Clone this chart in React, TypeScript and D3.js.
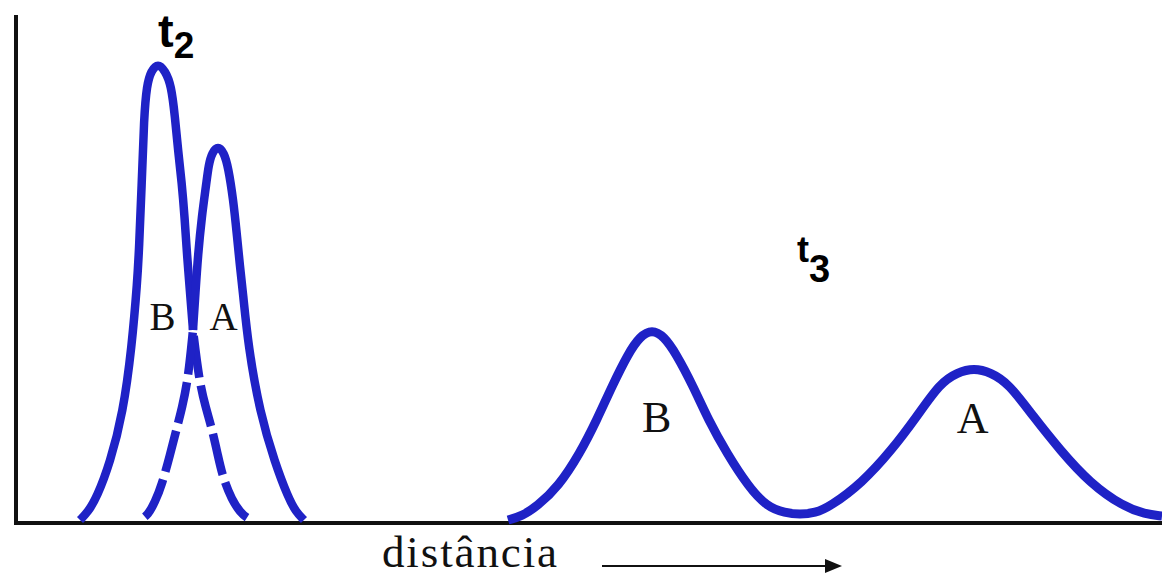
import React from "react";
import * as d3 from "d3";

// Chromatogram-style sketch: two solutes (A, B) at time t2 (unresolved) and t3 (resolved).
// Units: distance along the column (x) and detector signal (y), arbitrary units.

type Pt = [number, number];

// t2 — solute B: solid part up to where it crosses A, dashed tail afterwards
const t2BSolid: Pt[] = [
  [32, 1.5], [36, 5.5], [40.5, 13], [47, 30], [53.5, 55], [57.9, 88], [60.7, 121.5],
  [61.5, 136.5], [62.9, 170], [64, 203], [65.4, 219], [67.5, 226], [71, 230],
  [74.6, 226], [77.6, 219], [79.5, 203], [81, 186.5], [82.9, 170], [84.3, 153],
  [85.5, 134], [87, 115.5], [88.5, 96.5],
];
const t2BDashed: Pt[] = [
  [88.5, 96.5], [91.5, 71.5], [94.9, 57.5], [97.9, 47.5], [101, 33.5], [103.5, 22.5],
  [108, 11.5], [112, 5.5], [116, 2], [119, 1.5],
];

// t2 — solute A: dashed leading edge up to the crossing, solid afterwards
const t2ADashed: Pt[] = [
  [62, 1.5], [66, 4], [69.5, 10.5], [72.9, 19], [77, 34], [80.4, 47.5], [83, 57.5],
  [86, 71.5], [88.5, 96.5],
];
const t2ASolid: Pt[] = [
  [88.5, 96.5], [89.75, 115.5], [91, 134], [92.85, 153], [95.2, 170], [96.3, 179],
  [98, 185.2], [101, 188.6], [104, 185.2], [106.1, 178], [108.65, 161.5],
  [110.35, 145], [112, 128], [113.35, 116.5], [116.15, 88], [122, 55], [129.5, 30],
  [136, 13], [140, 5.5], [144, 1.5],
];

// t3 — both solutes separated, drawn as one continuous trace
const t3B: Pt[] = [
  [246, 1.5], [253, 3.5], [260.4, 8.2], [271.2, 18.2], [282, 34.9], [290.4, 51.5],
  [297.9, 68.2], [306.2, 84.9], [312, 93.3], [318, 96.8], [324, 93.3], [329.9, 84.9],
  [338.7, 68.2], [346.2, 51.5], [355.4, 34.9], [366.2, 18.2], [375.4, 8.2],
  [384.5, 5], [392, 4.2],
];
const t3A: Pt[] = [
  [392, 4.2], [399.5, 5], [407, 8.2], [422.9, 19.9], [437.9, 36.5], [450.4, 53.2],
  [462, 69.9], [470.5, 75.2], [479, 77.5], [487.5, 75.2], [496.2, 69.9], [508.7, 53.2],
  [522, 36.5], [537, 19.9], [553.7, 8.2], [564.5, 4.5], [573, 3.5],
];

// Peak labels: [text, x, y]
const peakLabels: [string, number, number][] = [
  ["B", 73.3, 96.3],
  ["A", 103.8, 96.5],
  ["B", 320.3, 45.7],
  ["A", 478.3, 45],
];
// Time labels: [base, subscript, x, y, base size, subscript size]
const timeLabels: [string, string, number, number, number, number][] = [
  ["t", "2", 71, 238, 47, 37],
  ["t", "3", 390.5, 130.5, 36, 38],
];
const axisTitle = "distância";

const W = 1162;
const H = 577;
const BLUE = "#1f22c6";

export default function App() {
  const x = d3.scaleLinear().domain([0, 573]).range([16, 1162]);
  const y = d3.scaleLinear().domain([0, 254]).range([523, 15]);
  const line = d3
    .line<Pt>()
    .x((d) => x(d[0]))
    .y((d) => y(d[1]))
    .curve(d3.curveBasis);

  const arrowY = 566;
  const arrowX0 = 602;
  const arrowX1 = 842;

  return (
    <svg
      width={W}
      height={H}
      style={{ position: "absolute", left: 0, top: 0, background: "#fff" }}
    >
      {/* axes */}
      <line x1={x(0)} x2={x(0)} y1={y(254)} y2={y(0) + 2} stroke="#111" strokeWidth={4} />
      <line x1={x(0) - 2} x2={x(573)} y1={y(0)} y2={y(0)} stroke="#111" strokeWidth={4} />

      {/* t2 peaks */}
      <g fill="none" stroke={BLUE} strokeWidth={8.5} strokeLinecap="butt" strokeLinejoin="round">
        <path d={line(t2BSolid) || ""} />
        <path d={line(t2ASolid) || ""} />
        <path d={line(t2BDashed) || ""} strokeDasharray="42 8" strokeDashoffset={44} />
        <path d={line(t2ADashed) || ""} strokeDasharray="42 8" strokeDashoffset={44} />
      </g>

      {/* t3 peaks */}
      <g fill="none" stroke={BLUE} strokeWidth={9} strokeLinejoin="round">
        <path d={line(t3B.concat(t3A.slice(1))) || ""} />
      </g>

      {/* peak labels */}
      {peakLabels.map(([t, px, py], i) => (
        <text
          key={i}
          x={x(px)}
          y={y(py)}
          textAnchor="middle"
          fontFamily="'Liberation Serif', 'Times New Roman', serif"
          fontSize={i < 2 ? 39 : 44}
          fill="#111"
        >
          {t}
        </text>
      ))}

      {/* time labels */}
      {timeLabels.map(([b, s, px, py, bs, ss], i) => (
        <text
          key={i}
          x={x(px)}
          y={y(py)}
          fontFamily="'Liberation Sans', Arial, sans-serif"
          fontWeight="bold"
          fill="#000"
        >
          <tspan fontSize={bs}>{b}</tspan>
          <tspan fontSize={ss} dy={i === 0 ? 11 : 20}>
            {s}
          </tspan>
        </text>
      ))}

      {/* axis title with direction arrow */}
      <text
        x={382}
        y={567}
        fontFamily="'Liberation Serif', 'Times New Roman', serif"
        fontSize={45}
        textLength={175}
        lengthAdjust="spacing"
        fill="#111"
      >
        {axisTitle}
      </text>
      <line x1={arrowX0} x2={arrowX1 - 14} y1={arrowY} y2={arrowY} stroke="#111" strokeWidth={2} />
      <path
        d={`M${arrowX1},${arrowY} L${arrowX1 - 17},${arrowY - 7} L${arrowX1 - 17},${arrowY + 7} Z`}
        fill="#111"
      />
    </svg>
  );
}
